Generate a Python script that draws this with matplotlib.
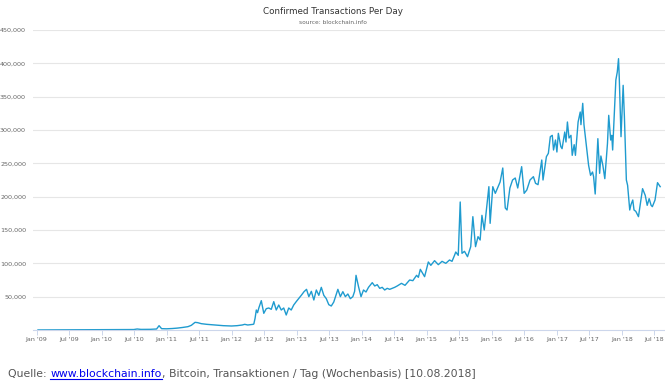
# Confirmed Transactions Per Day (blockchain.info), weekly values
import matplotlib
matplotlib.use('Agg')
import matplotlib.pyplot as plt
import matplotlib.dates as mdates
import pandas as pd
from matplotlib.ticker import FuncFormatter

dates = [
    '2009-01-09', '2009-03-01', '2009-05-01', '2009-07-01', '2009-09-01', '2009-11-01',
    '2010-01-01', '2010-03-01', '2010-05-01', '2010-07-01', '2010-07-20', '2010-08-10',
    '2010-10-01', '2010-11-06', '2010-11-20', '2010-12-04', '2011-01-01', '2011-02-01',
    '2011-03-01', '2011-04-01', '2011-05-01', '2011-05-20', '2011-06-10', '2011-06-25',
    '2011-07-15', '2011-08-15', '2011-10-01', '2011-11-15', '2012-01-01', '2012-02-01',
    '2012-03-01', '2012-03-15', '2012-04-01', '2012-05-01', '2012-05-05', '2012-05-12',
    '2012-05-19', '2012-05-26', '2012-06-02', '2012-06-16', '2012-06-30', '2012-07-14',
    '2012-07-28', '2012-08-11', '2012-08-25', '2012-09-08', '2012-09-22', '2012-10-06',
    '2012-10-20', '2012-11-03', '2012-11-17', '2012-12-01', '2012-12-15', '2012-12-29',
    '2013-01-28', '2013-02-11', '2013-02-25', '2013-03-10', '2013-03-24', '2013-04-07',
    '2013-04-21', '2013-05-05', '2013-05-19', '2013-06-02', '2013-06-16', '2013-06-30',
    '2013-07-14', '2013-07-28', '2013-08-20', '2013-09-03', '2013-09-17', '2013-10-01',
    '2013-10-15', '2013-10-29', '2013-11-12', '2013-11-22', '2013-11-30', '2013-12-14',
    '2013-12-28', '2014-01-11', '2014-01-25', '2014-02-08', '2014-03-01', '2014-03-15',
    '2014-03-29', '2014-04-12', '2014-04-26', '2014-05-10', '2014-05-24', '2014-06-07',
    '2014-06-21', '2014-07-05', '2014-07-19', '2014-08-12', '2014-09-01', '2014-09-27',
    '2014-10-15', '2014-11-05', '2014-11-15', '2014-11-26', '2014-12-20', '2015-01-10',
    '2015-01-24', '2015-02-14', '2015-03-07', '2015-03-28', '2015-04-18', '2015-05-09',
    '2015-05-23', '2015-06-06', '2015-06-13', '2015-06-27', '2015-07-08', '2015-07-18',
    '2015-08-01', '2015-08-18', '2015-09-05', '2015-09-17', '2015-10-02', '2015-10-16',
    '2015-10-28', '2015-11-07', '2015-11-20', '2015-11-30', '2015-12-16', '2015-12-23',
    '2016-01-07', '2016-01-21', '2016-02-17', '2016-03-03', '2016-03-17', '2016-03-27',
    '2016-04-12', '2016-04-27', '2016-05-12', '2016-05-26', '2016-06-17', '2016-07-01',
    '2016-07-16', '2016-08-03', '2016-08-22', '2016-09-03', '2016-09-17', '2016-10-08',
    '2016-10-15', '2016-11-03', '2016-11-14', '2016-11-25', '2016-12-06', '2016-12-13',
    '2016-12-24', '2017-01-01', '2017-01-09', '2017-01-23', '2017-01-30', '2017-02-14',
    '2017-02-21', '2017-03-01', '2017-03-10', '2017-03-21', '2017-03-28', '2017-04-08',
    '2017-04-15', '2017-04-30', '2017-05-12', '2017-05-16', '2017-05-26', '2017-06-02',
    '2017-06-14', '2017-06-28', '2017-07-09', '2017-07-20', '2017-07-26', '2017-08-04',
    '2017-08-19', '2017-08-29', '2017-09-05', '2017-09-16', '2017-09-27', '2017-10-12',
    '2017-10-19', '2017-10-30', '2017-11-05', '2017-11-10', '2017-11-17', '2017-11-28',
    '2017-12-06', '2017-12-13', '2017-12-17', '2017-12-27', '2018-01-08', '2018-01-15',
    '2018-01-26', '2018-02-02', '2018-02-14', '2018-02-21', '2018-03-03', '2018-03-10',
    '2018-03-20', '2018-04-04', '2018-04-12', '2018-04-27', '2018-05-12', '2018-05-23',
    '2018-06-03', '2018-06-14', '2018-06-21', '2018-07-06', '2018-07-20', '2018-08-04',
]

transactions = [
    100, 150, 200, 250, 200, 250,
    300, 350, 500, 700, 1500, 900,
    1000, 1500, 6500, 2000, 1800, 2200,
    2800, 3800, 5000, 7000, 11500, 11000,
    9500, 8500, 7500, 6500, 6000, 6500,
    7500, 8500, 7500, 8500, 9000, 17500,
    30000, 26000, 33000, 44000, 25000, 32000,
    33000, 31000, 42500, 30000, 37500, 30000,
    33000, 22500, 33000, 30000, 37500, 42500,
    52500, 57500, 61000, 50000, 58000, 45000,
    60000, 52000, 64000, 52000, 47000, 38000,
    36000, 42000, 61000, 50000, 57500, 50000,
    54000, 47000, 50000, 58000, 82000, 65000,
    50000, 60000, 57000, 64000, 71000, 66000,
    68000, 62500, 64000, 60000, 62500, 61000,
    62500, 64000, 66000, 70000, 67000, 75000,
    74000, 82000, 79000, 91000, 80000, 102000,
    97000, 104000, 98000, 103000, 100000, 105000,
    103000, 112000, 117000, 112000, 192000, 115000,
    118000, 110000, 125000, 170000, 125000, 140000,
    135000, 172000, 150000, 175000, 215000, 160000,
    215000, 205000, 222000, 243000, 183000, 180000,
    213000, 225000, 228000, 213000, 245000, 205000,
    210000, 225000, 230000, 220000, 218000, 255000,
    225000, 260000, 265000, 290000, 292000, 270000,
    285000, 267000, 295000, 275000, 272000, 297000,
    282000, 312000, 288000, 292000, 262000, 278000,
    262000, 312000, 327000, 308000, 340000, 308000,
    280000, 247000, 232000, 237000, 230000, 204000,
    287000, 235000, 261000, 247000, 227000, 280000,
    322000, 285000, 292000, 270000, 312000, 375000,
    387000, 407000, 380000, 290000, 367000, 320000,
    225000, 217000, 180000, 188000, 195000, 180000,
    178000, 170000, 185000, 212000, 202000, 187000,
    197000, 187000, 185000, 195000, 221000, 215000,
]

tick_dates = pd.date_range('2009-01-01', '2018-07-01', freq='6MS')
tick_labels = [d.strftime("%b '%y") for d in tick_dates]
y_ticks = list(range(50000, 450001, 50000))

plt.rcParams['font.family'] = ['DejaVu Sans']

fig = plt.figure(figsize=(6.65, 3.89), dpi=100)
ax = fig.add_axes([33 / 665, 1 - 330 / 389, 632 / 665, 300 / 389])

x = pd.to_datetime(dates)
ax.plot(x, transactions, color='#1f9bcf', linewidth=1.0)

ax.set_ylim(0, 450000)
ax.set_xlim(pd.Timestamp('2008-12-12'), pd.Timestamp('2018-08-31'))
ax.set_yticks(y_ticks)
ax.yaxis.set_major_formatter(FuncFormatter(lambda v, p: f'{int(v):,}'))
ax.set_xticks(tick_dates)
ax.set_xticklabels(tick_labels)

ax.grid(axis='y', color='#e6e6e6', linewidth=0.8)
ax.set_axisbelow(True)
for s in ['top', 'right', 'left']:
    ax.spines[s].set_visible(False)
ax.spines['bottom'].set_color('#ccd6eb')
ax.spines['bottom'].set_linewidth(0.8)
ax.tick_params(axis='y', length=0, pad=5, labelsize=4.6, labelcolor='#666666')
ax.tick_params(axis='x', length=3.5, width=0.7, color='#ccd6eb', pad=1.5,
               labelsize=4.6, labelcolor='#666666')

fig.text(0.5, 1 - 12 / 389, 'Confirmed Transactions Per Day', ha='center', va='center',
         fontsize=6.3, color='#333333')
fig.text(0.5, 1 - 22.5 / 389, 'source: blockchain.info', ha='center', va='center',
         fontsize=4.2, color='#666666')

# caption with a link-coloured part
cap_y = 1 - 377 / 389
parts = [('Quelle: ', '#555555'), ('www.blockchain.info', '#0000ee'),
         (', Bitcoin, Transaktionen / Tag (Wochenbasis) [10.08.2018]', '#555555')]
fig.canvas.draw()
renderer = fig.canvas.get_renderer()
xpos = 8 / 665
for txt, col in parts:
    t = fig.text(xpos, cap_y, txt, ha='left', va='baseline', fontsize=7.85, color=col)
    bb = t.get_window_extent(renderer=renderer)
    if col == '#0000ee':
        fig.add_artist(plt.Line2D([bb.x0 / 665, bb.x1 / 665],
                                  [cap_y - 1.5 / 389, cap_y - 1.5 / 389],
                                  color=col, linewidth=0.8, transform=fig.transFigure))
    xpos = bb.x1 / 665

fig.savefig('out.png', dpi=100)
